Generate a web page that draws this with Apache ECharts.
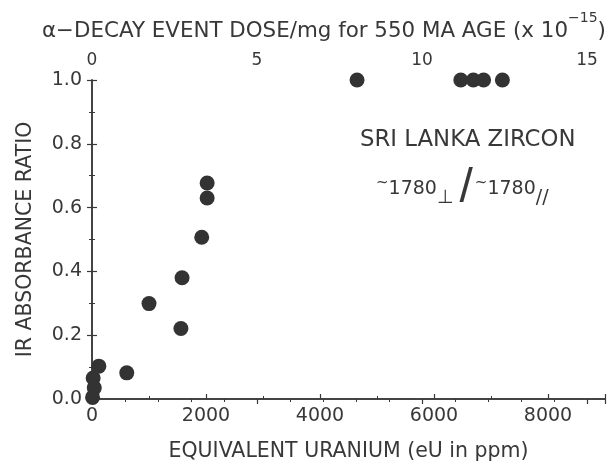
<!DOCTYPE html>
<html>
<head>
<meta charset="utf-8">
<script src="https://cdn.jsdelivr.net/npm/echarts@6/dist/echarts.min.js"></script>
<style>
  html, body { margin: 0; padding: 0; background: #fff; }
  #chart { width: 611px; height: 468px; }
</style>
</head>
<body>
<div id="chart"></div>
<script>
// 数据：等效铀含量 (ppm) 与红外吸收比
const uraniumPpm = [2020, 2020, 1925, 1580, 1000, 1560, 120, 610, 20, 40, 10, 4650, 6470, 6690, 6870, 7200];
const absorbanceRatio = [0.677, 0.630, 0.507, 0.380, 0.299, 0.221, 0.103, 0.082, 0.066, 0.035, 0.005, 1.0, 1.0, 1.0, 1.0, 1.0];

// 轴刻度
const bottomTicks = [0, 2000, 4000, 6000, 8000];
const doseTicks = [0, 5, 10, 15];
const ratioTicks = [0.0, 0.2, 0.4, 0.6, 0.8, 1.0];

// 550 Ma 下 1e15 次衰变/mg 对应约 578.9 ppm eU
const ppmPerDose = 578.9;
const xMax = 9000;

const FONT = 'DejaVu Sans';
const INK = '#383838';

const points = uraniumPpm.map((u, i) => [u, absorbanceRatio[i]]);

const axisLine = { lineStyle: { color: INK, width: 1.5 } };
const axisTick = { inside: true, length: 5, lineStyle: { color: INK, width: 1.2 } };
const minorTick = { show: true, length: 3, lineStyle: { color: INK, width: 1 } };
const labelStyle = { color: INK, fontFamily: FONT, fontSize: 19 };

const chart = echarts.init(document.getElementById('chart'), null, { renderer: 'canvas' });

chart.setOption({
  animation: false,
  backgroundColor: '#fff',
  grid: { left: 92, right: 6, top: 80, bottom: 69 },
  xAxis: [
    {
      type: 'value',
      position: 'bottom',
      min: 0,
      max: xMax,
      interval: 2000,
      axisLine: axisLine,
      axisTick: axisTick,
      minorTick: Object.assign({ splitNumber: 2 }, minorTick),
      splitLine: { show: false },
      axisLabel: Object.assign({
        margin: 8,
        formatter: v => bottomTicks.includes(v) ? String(v) : ''
      }, labelStyle),
      name: 'EQUIVALENT URANIUM (eU in ppm)',
      nameLocation: 'middle',
      nameGap: 42,
      nameTextStyle: { color: INK, fontFamily: FONT, fontSize: 20.5 }
    },
    {
      type: 'value',
      position: 'top',
      min: 0,
      max: xMax / ppmPerDose,
      interval: 5,
      axisLine: axisLine,
      axisTick: axisTick,
      minorTick: Object.assign({ splitNumber: 5 }, minorTick),
      splitLine: { show: false },
      axisLabel: Object.assign({}, labelStyle, {
        fontSize: 17,
        margin: 11,
        formatter: v => doseTicks.includes(v) ? String(v) : ''
      })
    }
  ],
  yAxis: [
    {
      type: 'value',
      position: 'left',
      min: 0,
      max: 1,
      interval: 0.2,
      axisLine: Object.assign({ show: true }, axisLine),
      axisTick: axisTick,
      minorTick: Object.assign({ splitNumber: 2 }, minorTick),
      splitLine: { show: false },
      axisLabel: Object.assign({
        margin: 10,
        formatter: v => ratioTicks.some(t => Math.abs(t - v) < 1e-9) ? v.toFixed(1) : ''
      }, labelStyle),
      name: 'IR ABSORBANCE RATIO',
      nameLocation: 'middle',
      nameGap: 56,
      nameTextStyle: { color: INK, fontFamily: FONT, fontSize: 20.5 }
    },
    {
      type: 'value',
      position: 'right',
      min: 0,
      max: 1,
      interval: 0.2,
      axisLine: Object.assign({ show: true }, axisLine),
      axisTick: axisTick,
      minorTick: Object.assign({ splitNumber: 2 }, minorTick),
      splitLine: { show: false },
      axisLabel: { show: false }
    }
  ],
  series: [
    {
      type: 'scatter',
      xAxisIndex: 0,
      yAxisIndex: 0,
      data: points,
      symbol: 'circle',
      symbolSize: 15,
      itemStyle: { color: '#333333', opacity: 1 },
      clip: false,
      z: 5
    }
  ],
  graphic: [
    {
      type: 'text',
      left: 42,
      top: 11,
      style: {
        text: '{a|α−DECAY EVENT DOSE/mg for 550 MA AGE (x 10}{s|−15}{a|)}',
        rich: {
          a: { fontFamily: FONT, fontSize: 21.4, fill: INK, verticalAlign: 'bottom', height: 28 },
          s: { fontFamily: FONT, fontSize: 14, fill: INK, verticalAlign: 'top', padding: [0, 0, 13, 0], height: 28 }
        }
      }
    },
    {
      type: 'text',
      left: 360,
      top: 129,
      style: {
        text: 'SRI LANKA ZIRCON',
        fontFamily: FONT,
        fontSize: 22.8,
        fill: INK
      }
    },
    {
      type: 'text',
      left: 376,
      top: 165,
      style: {
        text: '{t|~}{n|1780}{s|⊥}{g|/}{t|~}{n|1780}{s|//}',
        rich: {
          t: { fontFamily: FONT, fontSize: 15, fill: INK, padding: [0, 0, 12, 0] },
          n: { fontFamily: FONT, fontSize: 19, fill: INK },
          s: { fontFamily: FONT, fontSize: 19, fill: INK, padding: [18, 2, 0, 0] },
          g: { fontFamily: 'Liberation Sans', fontSize: 48, fill: INK, padding: [0, 2, 0, 4] }
        }
      }
    }
  ]
});
</script>
</body>
</html>
